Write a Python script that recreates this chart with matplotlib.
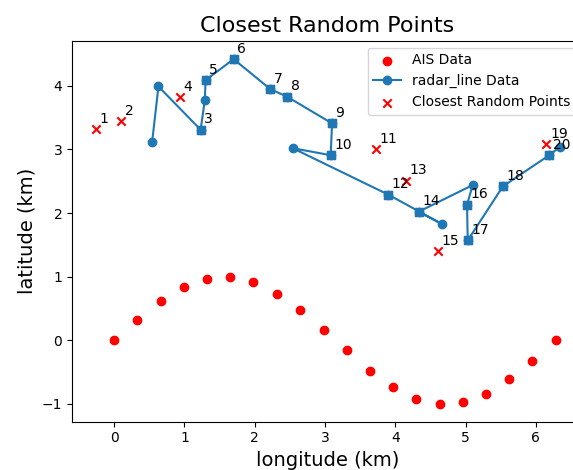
import matplotlib
matplotlib.use("Agg")
import matplotlib.pyplot as plt

# AIS data (red dots)
ais_x = [0.0, 0.33, 0.66, 0.99, 1.32, 1.65, 1.98, 2.31, 2.65, 2.98,
         3.31, 3.64, 3.97, 4.30, 4.63, 4.96, 5.29, 5.62, 5.95, 6.28]
ais_y = [0.0, 0.32, 0.61, 0.84, 0.97, 0.99, 0.91, 0.73, 0.47, 0.16,
         -0.16, -0.49, -0.74, -0.92, -1.0, -0.97, -0.84, -0.61, -0.32, 0.0]

# radar line (blue)
radar_x = [0.54, 0.63, 1.23, 1.29, 1.30, 1.70, 2.22, 2.46, 3.10, 3.08,
           2.54, 3.90, 4.66, 4.33, 5.10, 5.02, 5.03, 5.53, 6.19, 6.34]
radar_y = [3.12, 3.99, 3.31, 3.78, 4.09, 4.42, 3.95, 3.83, 3.41, 2.91,
           3.02, 2.29, 1.83, 2.02, 2.44, 2.13, 1.57, 2.42, 2.91, 3.04]

# closest random points, labelled 1..20
close_x = [-0.26, 0.10, 1.23, 0.93, 1.30, 1.70, 2.22, 2.46, 3.10, 3.08,
           3.73, 3.90, 4.15, 4.33, 4.60, 5.02, 5.03, 5.53, 6.15, 6.19]
close_y = [3.32, 3.44, 3.31, 3.82, 4.09, 4.42, 3.95, 3.83, 3.41, 2.91,
           3.00, 2.29, 2.51, 2.02, 1.40, 2.13, 1.57, 2.42, 3.08, 2.91]
# which closest points sit on a radar point (drawn as blue squares)
on_radar = [3, 5, 6, 7, 8, 9, 10, 12, 14, 16, 17, 18, 20]

fig = plt.figure(figsize=(5.73, 4.70), dpi=100)
ax = fig.add_axes([72/573, 48.3/470, 511/573, 381/470])

ax.scatter(ais_x, ais_y, color='red', label='AIS Data')
ax.plot(radar_x, radar_y, 'o-', color='C0', label='radar_line Data')
ax.scatter(close_x, close_y, color='red', marker='x', label='Closest Random Points')

sq_x = [close_x[i - 1] for i in on_radar]
sq_y = [close_y[i - 1] for i in on_radar]
ax.scatter(sq_x, sq_y, color='C0', marker='s', s=40, zorder=3)

for i in range(len(close_x)):
    ax.text(close_x[i] + 0.05, close_y[i] + 0.1, str(i + 1), fontsize=10)

ax.set_xlim(-0.6, 6.67)
ax.set_ylim(-1.28, 4.71)
ax.set_title('Closest Random Points', fontsize=16)
ax.set_xlabel('longitude (km)', fontsize=14)
ax.set_ylabel('latitude (km)', fontsize=14)
ax.legend(loc='upper right')

fig.savefig('out.png', dpi=100)
